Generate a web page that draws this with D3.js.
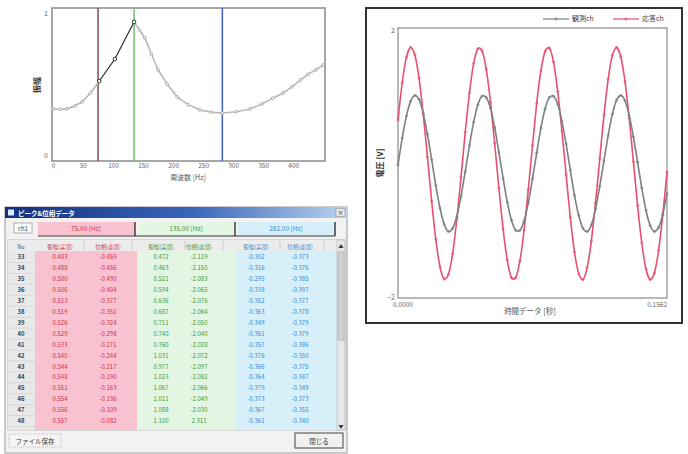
<!DOCTYPE html>
<html>
<head>
<meta charset="utf-8">
<script src="https://cdn.jsdelivr.net/npm/d3@7"></script>
<style>
body { margin: 0; background: #fff; }
text { font-family: "Noto Sans CJK JP", "Noto Sans", sans-serif; }
</style>
</head>
<body>
<svg id="fig"></svg>
<script>
// spectrum (top left)
const SPEC_HZ = [0, 12, 23, 36, 48, 62, 77, 103, 135, 144, 153, 164, 175, 190, 207, 225, 245, 263, 282, 305, 328, 348, 366, 383, 398, 412, 425, 438, 450];
const SPEC_AMP = [0.324, 0.322, 0.325, 0.345, 0.373, 0.435, 0.52, 0.676, 0.937, 0.88, 0.824, 0.71, 0.599, 0.50, 0.408, 0.355, 0.317, 0.302, 0.296, 0.305, 0.324, 0.36, 0.40, 0.437, 0.48, 0.528, 0.57, 0.60, 0.634];
const SPEC_SELECT = [77, 135];
const CURSOR_HZ = [75, 135, 282];
const SPEC_X_TICKS = [0, 50, 100, 150, 200, 250, 300, 350, 400];
const SPEC_Y_TICKS = [0, 1];

// time waveform (right)
const WAVE_SERIES = ["観測ch", "応答ch"];
const WAVE_OBS = [-0.02, 0.38, 0.71, 0.93, 1.02, 0.96, 0.75, 0.44, 0.06, -0.33, -0.67, -0.91, -1.02, -0.97, -0.79, -0.49,
    -0.12, 0.27, 0.62, 0.88, 1.01, 0.99, 0.83, 0.54, 0.17, -0.22, -0.58, -0.85, -1.00, -1.00, -0.86, -0.59,
    -0.23, 0.16, 0.53, 0.82, 0.99, 1.01, 0.89, 0.63, 0.29, -0.10, -0.48, -0.78, -0.97, -1.02, -0.92, -0.68,
    -0.34, 0.04, 0.42, 0.74, 0.95, 1.02, 0.94, 0.72, 0.40, 0.02, -0.37, -0.70, -0.93, -1.02, -0.96, -0.76, -0.45];
const WAVE_RESP = [0.65, 1.21, 1.59, 1.74, 1.63, 1.28, 0.74, 0.10, -0.56, -1.14, -1.55, -1.73, -1.66, -1.35, -0.83, -0.20,
    0.47, 1.06, 1.50, 1.72, 1.69, 1.41, 0.92, 0.30, -0.37, -0.98, -1.45, -1.71, -1.71, -1.46, -1.00, -0.39,
    0.27, 0.90, 1.39, 1.68, 1.73, 1.52, 1.08, 0.49, -0.17, -0.81, -1.33, -1.65, -1.74, -1.56, -1.16, -0.59,
    0.07, 0.72, 1.26, 1.62, 1.74, 1.60, 1.23, 0.68, 0.03, -0.63, -1.19, -1.58, -1.74, -1.64, -1.30, -0.77, -0.13];
const WAVE_Y_TICKS = [-2, 2];
const WAVE_T_LABELS = ["0.0000", "0.1562"];

// peak table (bottom left)
const ROW_NO = [33, 34, 35, 36, 37, 38, 39, 40, 41, 42, 43, 44, 45, 46, 47, 48];
const COL_HEADS = ["振幅(実部)", "位相(虚部)"];
const P1_RE = [0.483, 0.488, 0.500, 0.506, 0.513, 0.519, 0.526, 0.529, 0.533, 0.540, 0.544, 0.548, 0.551, 0.554, 0.556, 0.557];
const P1_IM = [-0.459, -0.456, -0.430, -0.404, -0.377, -0.351, -0.324, -0.298, -0.271, -0.244, -0.217, -0.190, -0.163, -0.136, -0.109, -0.082];
const P2_RE = [0.472, 0.463, 0.521, 0.594, 0.636, 0.687, 0.711, 0.740, 0.760, 1.031, 0.977, 1.023, 1.067, 1.011, 1.088, 1.100];
const P2_IM = [-2.119, -2.150, -2.083, -2.065, -2.076, -2.064, -2.050, -2.040, -2.028, -2.072, -2.097, -2.082, -2.066, -2.049, -2.030, 2.311];
const P3_RE = [-0.302, -0.316, -0.295, -0.338, -0.352, -0.363, -0.349, -0.361, -0.357, -0.376, -0.366, -0.364, -0.379, -0.373, -0.367, -0.361];
const P3_IM = [-0.373, -0.376, -0.385, -0.397, -0.377, -0.378, -0.379, -0.379, -0.386, -0.350, -0.375, -0.347, -0.349, -0.373, -0.355, -0.340];

const WIDTH = 688;
const HEIGHT = 454;
const CURSOR_COLORS = ["#8a4a4a", "#6cc46c", "#3f5fd0"];
const TAB_FILL = ["#f8c2d0", "#e3f6e3", "#d6eff9"];
const TAB_TEXT = ["#d0304c", "#3a9a3a", "#3a8ad0"];

const svg = d3.select("#fig").attr("width", WIDTH).attr("height", HEIGHT);
svg.append("rect").attr("width", WIDTH).attr("height", HEIGHT).attr("fill", "#fff");

drawSpectrum();
drawWave();
drawTable();

function drawSpectrum() {
    let g = svg.append("g");
    let x = d3.scaleLinear().domain([0, 453]).range([53, 325]);
    let y = d3.scaleLinear().domain([0, 1]).range([155, 13]);

    g.append("rect")
        .attr("x", 52).attr("y", 8).attr("width", 273).attr("height", 153)
        .attr("fill", "#fff").attr("stroke", "#8a8a8a").attr("stroke-width", 1.5);

    let xa = g.append("g").attr("transform", "translate(0,161)")
        .call(d3.axisBottom(x).tickValues(SPEC_X_TICKS).tickSize(0).tickPadding(2));
    xa.select(".domain").remove();
    xa.selectAll("text").attr("font-size", 6.5).attr("fill", "#666");

    let ya = g.append("g").attr("transform", "translate(52,0)")
        .call(d3.axisLeft(y).tickValues(SPEC_Y_TICKS).tickFormat(d3.format("d")).tickSize(0).tickPadding(4));
    ya.select(".domain").remove();
    ya.selectAll("text").attr("font-size", 7).attr("fill", "#666");

    g.append("text").attr("transform", "translate(40,85) rotate(-90)")
        .attr("text-anchor", "middle").attr("font-size", 8).attr("font-weight", "bold")
        .attr("fill", "#333").text("振幅");
    g.append("text").attr("x", 188).attr("y", 180)
        .attr("text-anchor", "middle").attr("font-size", 7).attr("fill", "#555")
        .text("周波数 [Hz]");

    g.selectAll(".cursor").data(CURSOR_HZ).enter().append("line")
        .attr("class", "cursor")
        .attr("x1", d => x(d)).attr("x2", d => x(d))
        .attr("y1", 8).attr("y2", 161)
        .attr("stroke", (d, i) => CURSOR_COLORS[i]).attr("stroke-width", 1.5);

    let pts = SPEC_HZ.map((h, i) => ({ hz: h, amp: SPEC_AMP[i] }));
    let sel = pts.filter(d => d.hz >= SPEC_SELECT[0] && d.hz <= SPEC_SELECT[1]);
    let line = d3.line().x(d => x(d.hz)).y(d => y(d.amp));

    g.append("path").attr("d", line(pts))
        .attr("fill", "none").attr("stroke", "#b8b8b8").attr("stroke-width", 1.6);
    g.selectAll(".sp").data(pts.filter(d => sel.indexOf(d) < 0)).enter().append("circle")
        .attr("cx", d => x(d.hz)).attr("cy", d => y(d.amp)).attr("r", 1.4)
        .attr("fill", "#fff").attr("stroke", "#999").attr("stroke-width", 0.8);

    g.append("path").attr("d", line(sel))
        .attr("fill", "none").attr("stroke", "#222").attr("stroke-width", 1);
    g.selectAll(".sel").data(sel).enter().append("circle")
        .attr("cx", d => x(d.hz)).attr("cy", d => y(d.amp)).attr("r", 1.8)
        .attr("fill", "#fff").attr("stroke", "#222").attr("stroke-width", 0.9);
}

function drawWave() {
    let g = svg.append("g");
    let x = d3.scaleLinear().domain([0, WAVE_OBS.length - 1]).range([398, 667]);
    let y = d3.scaleLinear().domain([-2, 2]).range([297, 30]);

    g.append("rect")
        .attr("x", 366).attr("y", 8).attr("width", 316).attr("height", 315)
        .attr("fill", "#fff").attr("stroke", "#333").attr("stroke-width", 2);
    g.append("rect")
        .attr("x", 398).attr("y", 28).attr("width", 269).attr("height", 270)
        .attr("fill", "#fff").attr("stroke", "#8a8a8a").attr("stroke-width", 1.2);

    let ya = g.append("g").attr("transform", "translate(398,0)")
        .call(d3.axisLeft(y).tickValues(WAVE_Y_TICKS).tickFormat(d3.format("d")).tickSize(0).tickPadding(3));
    ya.select(".domain").remove();
    ya.selectAll("text").attr("font-size", 7).attr("fill", "#666");

    let ends = x.domain();
    g.selectAll(".tl").data(WAVE_T_LABELS).enter().append("text")
        .attr("x", (d, i) => x(ends[i]) + (i == 0 ? -5 : 0))
        .attr("y", 307)
        .attr("text-anchor", (d, i) => i == 0 ? "start" : "end")
        .attr("font-size", 6.5).attr("fill", "#666").text(d => d);

    g.append("text").attr("x", 530).attr("y", 314)
        .attr("text-anchor", "middle").attr("font-size", 7.5).attr("fill", "#555")
        .text("時間データ [秒]");
    g.append("text").attr("transform", "translate(383,163) rotate(-90)")
        .attr("text-anchor", "middle").attr("font-size", 8).attr("font-weight", "bold")
        .attr("fill", "#333").text("電圧 [V]");

    let colors = ["#7c8080", "#e8506e"];
    let series = [WAVE_OBS, WAVE_RESP];
    let line = d3.line().x((d, i) => x(i)).y(d => y(d)).curve(d3.curveCardinal.tension(0.3));

    [1, 0].forEach(function(k) {
        g.append("path").attr("d", line(series[k]))
            .attr("fill", "none").attr("stroke", colors[k]).attr("stroke-width", 1.6);
        g.selectAll(".m" + k).data(series[k]).enter().append("circle")
            .attr("cx", (d, i) => x(i)).attr("cy", d => y(d)).attr("r", 1.1)
            .attr("fill", "none").attr("stroke", colors[k]).attr("stroke-width", 0.7);
    });

    // legend
    let lg = g.selectAll(".lg").data(WAVE_SERIES).enter().append("g")
        .attr("transform", (d, i) => "translate(" + (543 + i * 70) + ",19)");
    lg.append("line").attr("x1", 0).attr("x2", 26)
        .attr("stroke", (d, i) => colors[i]).attr("stroke-width", 1.2);
    lg.append("circle").attr("cx", 13).attr("r", 1.2).attr("fill", "none")
        .attr("stroke", (d, i) => colors[i]).attr("stroke-width", 0.7);
    lg.append("text").attr("x", 29).attr("dy", "0.35em")
        .attr("font-size", 7).attr("fill", "#444").text(d => d);
}

function drawTable() {
    let g = svg.append("g");
    let cols = [[P1_RE, P1_IM], [P2_RE, P2_IM], [P3_RE, P3_IM]];
    let bands = [[35, 137], [137, 235], [235, 337]];
    let colX = [[60, 108], [161, 199], [256, 300]];
    let rowY = d3.scaleLinear().domain([0, ROW_NO.length - 1]).range([257, 421]);

    g.append("rect").attr("x", 5).attr("y", 207).attr("width", 342).attr("height", 246)
        .attr("fill", "#f2f2f2").attr("stroke", "#9a9a9a");

    let grad = svg.append("defs").append("linearGradient").attr("id", "tb");
    grad.append("stop").attr("offset", "0%").attr("stop-color", "#12307e");
    grad.append("stop").attr("offset", "55%").attr("stop-color", "#3a66b8");
    grad.append("stop").attr("offset", "100%").attr("stop-color", "#b9d2ee");
    g.append("rect").attr("x", 5).attr("y", 207).attr("width", 342).attr("height", 11)
        .attr("fill", "url(#tb)");
    g.append("rect").attr("x", 8).attr("y", 209.5).attr("width", 6).attr("height", 6)
        .attr("fill", "#dfe8f5");
    g.append("text").attr("x", 18).attr("y", 215.5).attr("font-size", 6.5)
        .attr("font-weight", "bold").attr("fill", "#fff").text("ピーク&位相データ");
    g.append("rect").attr("x", 336).attr("y", 208.5).attr("width", 9).attr("height", 8)
        .attr("fill", "#e8e8e8").attr("stroke", "#888").attr("stroke-width", 0.5);
    g.append("text").attr("x", 340.5).attr("y", 215).attr("text-anchor", "middle")
        .attr("font-size", 6.5).attr("fill", "#333").text("×");

    // tabs with the cursor frequencies
    g.append("rect").attr("x", 14).attr("y", 223).attr("width", 18).attr("height", 10)
        .attr("fill", "#fff").attr("stroke", "#777").attr("stroke-width", 0.6);
    g.append("text").attr("x", 23).attr("y", 230.5).attr("text-anchor", "middle")
        .attr("font-size", 6).attr("fill", "#444").text("ch1");
    g.selectAll(".tab").data(CURSOR_HZ).enter().append("rect")
        .attr("x", (d, i) => bands[i][0] + 3).attr("y", 222)
        .attr("width", (d, i) => bands[i][1] - bands[i][0] - 5).attr("height", 13)
        .attr("fill", (d, i) => TAB_FILL[i]);
    g.selectAll(".tabt").data(CURSOR_HZ).enter().append("text")
        .attr("x", (d, i) => (bands[i][0] + bands[i][1]) / 2).attr("y", 231)
        .attr("text-anchor", "middle").attr("font-size", 6.5)
        .attr("fill", (d, i) => TAB_TEXT[i]).text(d => d.toFixed(2) + " [Hz]");
    g.append("line").attr("x1", 38).attr("x2", 335).attr("y1", 236).attr("y2", 236)
        .attr("stroke", "#333").attr("stroke-width", 1);
    g.selectAll(".tick").data([135, 235, 335]).enter().append("line")
        .attr("x1", d => d).attr("x2", d => d).attr("y1", 222).attr("y2", 236)
        .attr("stroke", "#222").attr("stroke-width", 1.3);

    // grid body
    g.append("rect").attr("x", 8).attr("y", 240).attr("width", 337).attr("height", 190)
        .attr("fill", "#fff").attr("stroke", "#999").attr("stroke-width", 0.6);
    g.selectAll(".band").data(bands).enter().append("rect")
        .attr("x", d => d[0]).attr("y", 251).attr("width", d => d[1] - d[0]).attr("height", 179)
        .attr("fill", (d, i) => TAB_FILL[i]);
    g.append("rect").attr("x", 8).attr("y", 240).attr("width", 329).attr("height", 11)
        .attr("fill", "#ececec");
    g.append("rect").attr("x", 8).attr("y", 251).attr("width", 27).attr("height", 179)
        .attr("fill", "#e9e9e9");

    let heads = [];
    colX.forEach(function(pair, b) {
        pair.forEach(function(cx, k) { heads.push({ x: cx, label: COL_HEADS[k], b: b }); });
    });
    g.selectAll(".hsep").data(heads).enter().append("line")
        .attr("x1", d => d.x + 24).attr("x2", d => d.x + 24).attr("y1", 241).attr("y2", 250)
        .attr("stroke", "#b5b5b5").attr("stroke-width", 0.6);
    g.selectAll(".head").data(heads).enter().append("text")
        .attr("x", d => d.x).attr("y", 248.5).attr("text-anchor", "middle")
        .attr("font-size", 5.5).attr("fill", d => TAB_TEXT[d.b]).text(d => d.label);
    g.append("text").attr("x", 21).attr("y", 248.5).attr("text-anchor", "middle")
        .attr("font-size", 5.5).attr("fill", "#555").text("No");

    g.selectAll(".rline").data(ROW_NO).enter().append("line")
        .attr("x1", 8).attr("x2", 35)
        .attr("y1", (d, i) => rowY(i) + 5.5).attr("y2", (d, i) => rowY(i) + 5.5)
        .attr("stroke", "#c8c8c8").attr("stroke-width", 0.5);
    g.selectAll(".no").data(ROW_NO).enter().append("text")
        .attr("x", 21).attr("y", (d, i) => rowY(i) + 2.2).attr("text-anchor", "middle")
        .attr("font-size", 6).attr("font-weight", "bold").attr("fill", "#444").text(d => d);

    cols.forEach(function(pair, b) {
        pair.forEach(function(vals, k) {
            g.selectAll(".c" + b + k).data(vals).enter().append("text")
                .attr("x", colX[b][k]).attr("y", (d, i) => rowY(i) + 2.2)
                .attr("text-anchor", "middle").attr("font-size", 6)
                .attr("fill", TAB_TEXT[b]).text(d => d.toFixed(3));
        });
    });

    // scrollbar
    g.append("rect").attr("x", 337).attr("y", 240).attr("width", 8).attr("height", 190)
        .attr("fill", "#e6e6e6").attr("stroke", "#aaa").attr("stroke-width", 0.5);
    g.append("rect").attr("x", 338).attr("y", 252).attr("width", 6).attr("height", 88)
        .attr("fill", "#d2d2d2").attr("stroke", "#999").attr("stroke-width", 0.5);
    g.append("text").attr("x", 341).attr("y", 248).attr("text-anchor", "middle")
        .attr("font-size", 5).attr("fill", "#333").text("▲");
    g.append("text").attr("x", 341).attr("y", 428).attr("text-anchor", "middle")
        .attr("font-size", 5).attr("fill", "#333").text("▼");

    // buttons
    g.append("rect").attr("x", 9).attr("y", 434).attr("width", 52).attr("height", 13)
        .attr("fill", "#f4f4f4").attr("stroke", "#999").attr("stroke-width", 0.6)
        .attr("stroke-dasharray", "1,1");
    g.append("text").attr("x", 35).attr("y", 443.5).attr("text-anchor", "middle")
        .attr("font-size", 6.5).attr("fill", "#333").text("ファイル保存");
    g.append("rect").attr("x", 295).attr("y", 433).attr("width", 48).attr("height", 15)
        .attr("fill", "#f0f0f0").attr("stroke", "#444").attr("stroke-width", 1);
    g.append("text").attr("x", 319).attr("y", 443.5).attr("text-anchor", "middle")
        .attr("font-size", 6.5).attr("fill", "#333").text("閉じる");
}
</script>
</body>
</html>
